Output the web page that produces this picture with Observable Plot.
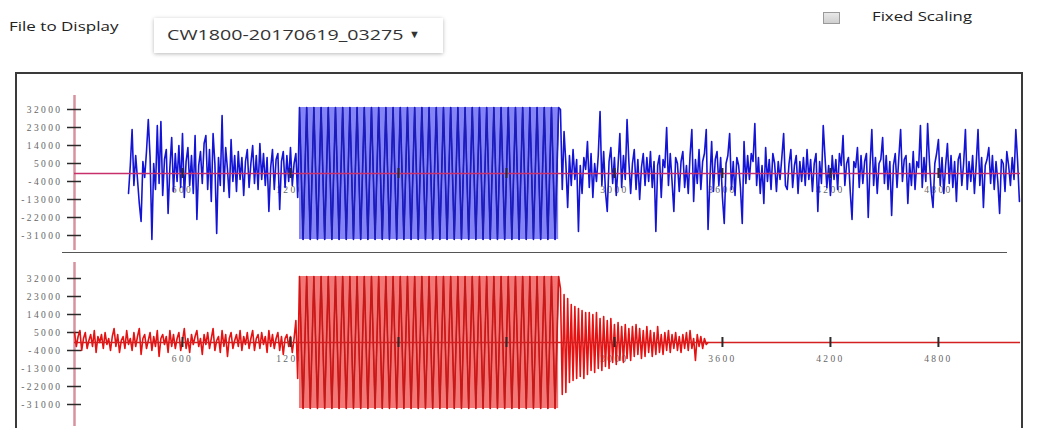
<!DOCTYPE html>
<html>
<head>
<meta charset="utf-8">
<script src="https://cdn.jsdelivr.net/npm/d3@7"></script>
<script src="https://cdn.jsdelivr.net/npm/@observablehq/plot@0.6"></script>
<style>
  html, body { margin: 0; padding: 0; background: #fff; }
  body { width: 1041px; height: 428px; overflow: hidden; position: relative; font-family: "Open Sans", sans-serif; }
  .lbl { position: absolute; white-space: nowrap; transform-origin: left center; color: #222; }
  .panel { position: absolute; left: 0; }
  .panel svg text { letter-spacing: 2.4px; }
  #box { position: absolute; left: 15px; top: 72px; width: 1008px; height: 420px; border: 2px solid #3a3a3a; box-sizing: border-box; pointer-events: none; }
  #sep { position: absolute; left: 62px; top: 252px; width: 945px; height: 0; border-top: 1.5px solid #555; }
  #dd { position: absolute; left: 154px; top: 18px; width: 289px; height: 35px; background: #fff; box-shadow: 0 1px 4px rgba(0,0,0,0.28); }
  #cb { position: absolute; left: 823px; top: 12px; width: 17px; height: 12px; border: 1px solid #9a9a9a; background: linear-gradient(#e8e8e8, #cfcfcf); box-sizing: border-box; }
</style>
</head>
<body>
<div class="lbl" style="left:9px; top:18px; font-size:12.5px; transform:scaleX(1.36);">File to Display</div>
<div id="dd"></div>
<div class="lbl" style="left:167px; top:24px; font-size:15px; color:#333; transform:scaleX(1.31);">CW1800-20170619_03275</div>
<div class="lbl" style="left:409px; top:26px; font-size:11px; color:#333;">▼</div>
<div id="cb"></div>
<div class="lbl" style="left:872px; top:8px; font-size:12.5px; transform:scaleX(1.34);">Fixed Scaling</div>
<div id="top" class="panel" style="top:73px;"></div>
<div id="bot" class="panel" style="top:253px;"></div>
<div id="sep"></div>
<div id="box"></div>
<script>
// ---- data (values in thousands of counts) ----
const yTicks = [32000, 23000, 14000, 5000, -4000, -13000, -22000, -31000];
const xTicks = [600, 1200, 1800, 2400, 3000, 3600, 4200, 4800];
const sampleStep = 10;   // noise samples
const satStep = 20;      // saturated oscillation samples

// blue channel
const blueNoiseAStart = 300;
const blueNoiseA = [
  -10, 4, 22, -6, 9, -3, -15, -24, 6, -2,
  11, 27, 8, -33, 5, -8, 24, -5, 26, -11,
  7, 12, -20, 3, 18, -9, 10, -4, 14, -7,
  20, -12, 6, 13, -6, 9, -10, 19, -23, 4,
  11, -5, 15, 19, -8, 12, -14, 20, 5, -30,
  8, -6, 29, -9, 13, 2, -12, 17, -4, 9,
  -9, 11, -3, 8, -11, 6, 12, -7, 5, 14,
  -5, 9, -8, 15, -3, 10, -6, 8, -19, 3,
  12, -8, 7, 10, -18, 6, 11, -7, 9, -4,
  13, -6, 5, 10, -12
];
const blueSatStart = 1250;
const blueSat = [
  33,-33,33,-33,33,-33,33,-33,33,-33,33,-33,33,-33,33,-33,33,-33,33,-33,
  33,-33,33,-33,33,-33,33,-33,33,-33,33,-33,33,-33,33,-33,33,-33,33,-33,
  33,-33,33,-33,33,-33,33,-33,33,-33,33,-33,33,-33,33,-33,33,-33,33,-33,
  33,-33,33,-33,33,-33,33,-33,33,-33,33,-33,33
];
const blueNoiseBStart = 2700;
const blueNoiseB = [
  32, -8, 21, 5, -17, 9, -6, 12, -3, 7,
  -29, 4, -10, 8, 2, 16, -7, 10, -12, 5,
  -4, 9, 31, -6, 11, -9, -19, 6, 13, -5,
  8, -11, 4, 20, -7, 9, -3, 27, 6, -10,
  5, 12, -8, 7, -13, 3, 10, -6, 8, -4,
  11, -7, 6, -29, 4, 9, -12, 7, 3, 23,
  -6, 10, -4, -19, 8, 5, -9, 6, 11, -7,
  4, -10, 9, 22, -14, 7, -5, 12, -8, 6,
  10, 22, -28, -4, 16, -9, 7, 11, -6, 8,
  -12, -25, 5, 9, 20, -8, 6, -11, 8, 4,
  -7, -25, 16, -5, 9, -3, 10, 6, 25, -6,
  8, -10, 4, -15, 13, -4, 7, -8, 10, 5,
  -9, 6, -3, 8, 20, -6, -8, 5, 12, -7,
  4, 9, -10, 6, -4, 8, -6, 12, -3, 7,
  -9, 5, 10, -19, 6, -5, 24, 8, -7, 4,
  -11, 9, -3, 7, -8, 10, 4, 19, -6, 5,
  8, -9, -23, 6, 3, 13, -7, 9, -5, 6,
  10, -22, 4, 22, -6, 8, -10, 5, 7, 18,
  -5, 9, -8, 6, -21, 4, 10, -7, 8, 22,
  -4, 7, 9, -15, 5, -6, 11, -8, 6, 3,
  24, -7, 8, -4, 25, 6, -9, -17, 5, 10,
  17, -6, 8, -10, 4, 15, -5, 9, -7, 6,
  -14, 7, 10, -6, 5, 22, -8, 6, -4, 9,
  -10, 5, 22, -6, 8, -17, 4, 7, 13, -5,
  9, -8, 6, -4, -20, 7, 5, -9, 11, 4,
  -6, 8, -3, 22, 6, -14
];

// red channel
const redNoiseStart = 0;
const redNoise = [
  5, -2, 3, 6, -4, 2, 5, -3, 1, 4,
  -2, 6, -5, 3, 0, 4, -3, 5, -1, 2,
  -4, 3, 7, -2, 4, -5, 1, 3, -3, 6,
  -1, 2, -4, 5, -2, 3, 7, -6, 2, 4,
  -3, 1, 5, -4, 3, -2, 6, -7, 2, 4,
  -1, 3, -5, 6, -2, 4, -3, 2, 5, -4,
  1, 7, -3, 2, -5, 4, -1, 3, 6, -2,
  2, -6, 4, -1, 5, -3, 2, 7, -4, 1,
  3, -5, 6, -2, 4, -7, 2, 5, -3, 1,
  4, -2, 6, -4, 3, -1, 5, -3, 2, 6,
  -4, 2, 4, -3, 5, -1, 3, -5, 6, -2,
  4, -3, 2, 5, -4, 3, -6, 2, 4, -2,
  3, -5, 2, 11, -18
];
const redSatStart = 1250;
const redSat = [
  33,-33,33,-33,33,-33,33,-33,33,-33,33,-33,33,-33,33,-33,33,-33,33,-33,
  33,-33,33,-33,33,-33,33,-33,33,-33,33,-33,33,-33,33,-33,33,-33,33,-33,
  33,-33,33,-33,33,-33,33,-33,33,-33,33,-33,33,-33,33,-33,33,-33,33,-33,
  33,-33,33,-33,33,-33,33,-33,33,-33,33,-33,33
];
const redDecayStart = 2700;
const redDecay = [
  27, -26, 24, -25, 22, -20, 19, -19, 18, -18,
  17, -17, 16, -18, 15, -16, 15, -14, 14, -15,
  15, -13, 12, -14, 13, -12, 11, -13, 12, -10,
  9, -11, 10, -9, 8, -10, 9, -8, 7, -9,
  8, -7, 9, -6, 7, -8, 6, -7, 8, -5,
  6, -7, 5, -6, 8, -5, 4, -6, 5, -4,
  6, -5, 4, -3, 5, -4, 3, -5, 4, -3,
  5, -4, 6, -3, 2, -9, 4, -2, 3, -3,
  2, -1, 0
];

const xMax = 5256;
const series = (vals, start, step) => vals.map((v, i) => ({t: start + i * step, v: v * 1000}));

const blueSatData = series(blueSat, blueSatStart, satStep);
const blueData = [
  ...series(blueNoiseA, blueNoiseAStart, sampleStep),
  ...blueSatData,
  ...series(blueNoiseB, blueNoiseBStart, sampleStep)
];
const redSatData = series(redSat, redSatStart, satStep);
const redData = [
  ...series(redNoise, redNoiseStart, sampleStep),
  ...redSatData,
  ...series(redDecay, redDecayStart, sampleStep)
];

const font = "Liberation Serif";
function panel({data, sat, height, marginTop, marginBottom, yDomain, lineColor, satColor, fillColor, zeroColor}) {
  return Plot.plot({
    width: 1041, height,
    marginLeft: 74, marginRight: 21, marginTop, marginBottom,
    style: {background: "transparent", overflow: "visible"},
    x: {domain: [0, xMax], axis: null},
    y: {domain: yDomain, axis: null},
    marks: [
      Plot.ruleX([0], {stroke: "#d6939f", strokeWidth: 2.5}),
      Plot.ruleY(yTicks, {y: d => d, x1: 0, x2: 0, insetLeft: -7, insetRight: -7, stroke: "#2a2a2a", strokeWidth: 1.5}),
      Plot.text(yTicks, {y: d => d, frameAnchor: "left", dx: -12, textAnchor: "end", text: d => String(d), fill: "#666", fontSize: 9.5, fontFamily: font}),
      Plot.text(xTicks, {x: d => d, y: () => 0, dy: 16, text: d => String(d), fill: "#666", fontSize: 9.5, fontFamily: font}),
      Plot.areaY(sat, {x: "t", y1: d => -Math.abs(d.v), y2: d => Math.abs(d.v), fill: fillColor}),
      Plot.lineY(data, {x: "t", y: "v", stroke: lineColor, strokeWidth: 1.6, strokeLinejoin: "round"}),
      Plot.lineY(sat, {x: "t", y: "v", stroke: satColor, strokeWidth: 1.1}),
      Plot.ruleY([0], {stroke: zeroColor, strokeWidth: 1.3}),
      Plot.ruleX(xTicks, {x: d => d, y1: 0, y2: 0, insetTop: -5, insetBottom: -5, stroke: "#2a2a2a", strokeWidth: 2})
    ]
  });
}

document.getElementById("top").append(panel({
  data: blueData, sat: blueSatData, height: 180, marginTop: 22, marginBottom: 3,
  yDomain: [-38500, 39000], lineColor: "#1414d6", satColor: "#1e1eb0", fillColor: "#8484f4", zeroColor: "#c8306c"
}));
document.getElementById("bot").append(panel({
  data: redData, sat: redSatData, height: 175, marginTop: 9, marginBottom: 2,
  yDomain: [-42000, 40000], lineColor: "#e61212", satColor: "#bb1c1c", fillColor: "#f27878", zeroColor: "#d42020"
}));
</script>
</body>
</html>
